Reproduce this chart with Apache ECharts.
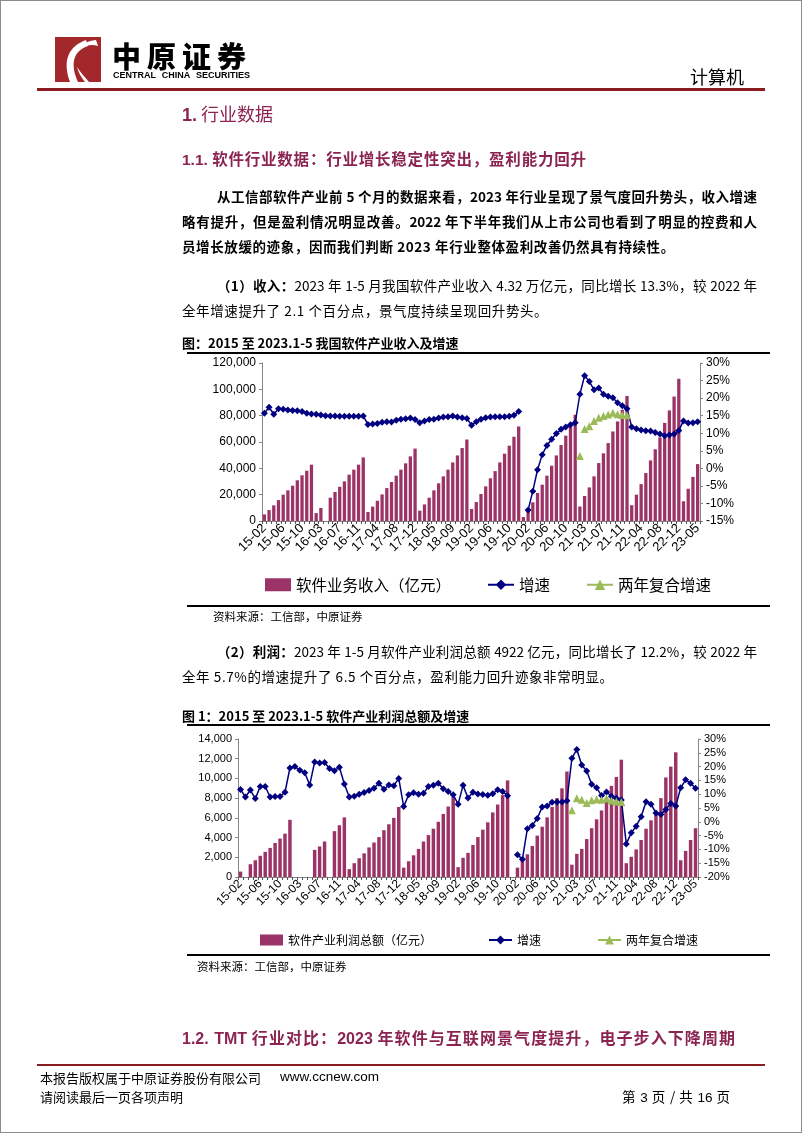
<!DOCTYPE html>
<html><head><meta charset="utf-8">
<script src="https://cdn.jsdelivr.net/npm/echarts@6/dist/echarts.min.js"></script>
<style>
html,body{margin:0;padding:0;background:#fff;}
#page{position:relative;width:802px;height:1133px;overflow:hidden;font-family:"Noto Sans CJK SC",sans-serif;color:#000;}
#frame{position:absolute;left:0;top:0;width:800px;height:1131px;border:1px solid #8c8c8c;}
#chart{position:absolute;left:0;top:0;width:802px;height:1133px;}
.t{position:absolute;white-space:nowrap;line-height:1;z-index:2;}
.j{text-align:justify;text-align-last:justify;}
.rule{position:absolute;z-index:2;}
.mar{color:#8c2452;}
b{font-weight:700;}
</style></head>
<body><div id="page">
<div id="frame"></div>
<div id="chart"></div>
<svg style="position:absolute;left:55px;top:37px;z-index:2" width="46" height="45" viewBox="0 0 46 45">
<rect width="46" height="45" fill="#a3282c"/>
<path d="M31 3 C14 9 7 23 15 45 L23 45 C15 27 18 14 33 9 Z" fill="#fff"/>
<path d="M41 3 C31 4 27 8 25 12 C31 8 37 7 43 9 Z" fill="#fff"/>
<path d="M22 30 C26 36 30 40 34 45 L30 45 C27 41 24 37 22 30 Z" fill="#fff"/>
</svg>
<div class="t" style="left:112px;top:41px;font-size:29px;font-weight:900;letter-spacing:6px;">中原证券</div>
<div class="t j" style="left:113px;top:71px;font-size:9px;font-weight:700;font-family:'Liberation Sans Narrow','Liberation Sans',Arial;width:137px;height:10px;">CENTRAL CHINA SECURITIES</div>
<div class="t" style="left:690px;top:67px;font-size:18px;">计算机</div>
<div class="rule" style="left:37px;top:88px;width:728px;height:3px;background:#8b1c1f;"></div>

<div class="t mar" style="left:182px;top:104px;font-size:18px;"><span style="font-family:'Liberation Sans',Arial;font-weight:700;">1.</span> 行业数据</div>
<div class="t mar j" style="left:182px;top:151px;font-size:15.5px;font-weight:700;width:404px;height:16px;"><span style="font-family:'Liberation Sans',Arial;">1.1.</span> 软件行业数据：行业增长稳定性突出，盈利能力回升</div>

<div class="t j" style="left:217px;top:190px;font-size:13.5px;font-weight:700;width:540px;height:15px;">从工信部软件产业前 5 个月的数据来看，2023 年行业呈现了景气度回升势头，收入增速</div>
<div class="t j" style="left:182px;top:215px;font-size:13.5px;font-weight:700;width:575px;height:15px;">略有提升，但是盈利情况明显改善。2022 年下半年我们从上市公司也看到了明显的控费和人</div>
<div class="t" style="left:182px;top:240px;font-size:13.5px;font-weight:700;letter-spacing:0.6px;">员增长放缓的迹象，因而我们判断 2023 年行业整体盈利改善仍然具有持续性。</div>

<div class="t j" style="left:217px;top:279px;font-size:13.5px;width:540px;height:15px;"><b>（1）收入：</b>2023 年 1-5 月我国软件产业收入 4.32 万亿元，同比增长 13.3%，较 2022 年</div>
<div class="t" style="left:182px;top:304px;font-size:13.5px;letter-spacing:0.6px;">全年增速提升了 2.1 个百分点，景气度持续呈现回升势头。</div>

<div class="t" style="left:182px;top:336px;font-size:13px;font-weight:700;">图：2015 至 2023.1-5 我国软件产业收入及增速</div>
<div class="rule" style="left:187px;top:352px;width:583px;height:2px;background:#000;"></div>
<div class="rule" style="left:187px;top:605px;width:583px;height:2px;background:#000;"></div>
<div class="t" style="left:213px;top:611px;font-size:11.5px;">资料来源：工信部，中原证券</div>

<div class="t j" style="left:217px;top:645px;font-size:13.5px;width:540px;height:15px;"><b>（2）利润：</b>2023 年 1-5 月软件产业利润总额 4922 亿元，同比增长了 12.2%，较 2022 年</div>
<div class="t" style="left:182px;top:670px;font-size:13.5px;letter-spacing:0.6px;">全年 5.7%的增速提升了 6.5 个百分点，盈利能力回升迹象非常明显。</div>

<div class="t" style="left:182px;top:709px;font-size:13px;font-weight:700;">图 1：2015 至 2023.1-5 软件产业利润总额及增速</div>
<div class="rule" style="left:187px;top:724px;width:583px;height:2px;background:#000;"></div>
<div class="rule" style="left:187px;top:954px;width:583px;height:2px;background:#000;"></div>
<div class="t" style="left:197px;top:961px;font-size:11.5px;">资料来源：工信部，中原证券</div>

<div class="t mar j" style="left:182px;top:1029px;font-size:16px;font-weight:700;width:553px;height:17px;"><span style="font-family:'Liberation Sans',Arial;">1.2. TMT</span> 行业对比：<span style="font-family:'Liberation Sans',Arial;">2023</span> 年软件与互联网景气度提升，电子步入下降周期</div>
<div class="rule" style="left:37px;top:1064px;width:728px;height:2px;background:#8b1c1f;"></div>
<div class="t" style="left:40px;top:1071px;font-size:13px;">本报告版权属于中原证券股份有限公司</div>
<div class="t" style="left:280px;top:1070px;font-size:13.5px;font-family:'Liberation Sans',Arial;">www.ccnew.com</div>
<div class="t" style="left:40px;top:1090px;font-size:13px;">请阅读最后一页各项声明</div>
<div class="t j" style="left:622px;top:1090px;font-size:13.5px;width:108px;height:14px;">第 <span style="font-family:'Liberation Sans',Arial;">3</span> 页 / 共 <span style="font-family:'Liberation Sans',Arial;">16</span> 页</div>
</div>
<script>
const months = [
'15-02','15-03','15-04','15-05','15-06','15-07','15-08','15-09','15-10','15-11','15-12',
'16-02','16-03','16-04','16-05','16-06','16-07','16-08','16-09','16-10','16-11','16-12',
'17-02','17-03','17-04','17-05','17-06','17-07','17-08','17-09','17-10','17-11','17-12',
'18-02','18-03','18-04','18-05','18-06','18-07','18-08','18-09','18-10','18-11','18-12',
'19-02','19-03','19-04','19-05','19-06','19-07','19-08','19-09','19-10','19-11','19-12',
'20-01',
'20-02','20-03','20-04','20-05','20-06','20-07','20-08','20-09','20-10','20-11','20-12',
'21-02','21-03','21-04','21-05','21-06','21-07','21-08','21-09','21-10','21-11','21-12',
'22-02','22-03','22-04','22-05','22-06','22-07','22-08','22-09','22-10','22-11','22-12',
'23-02','23-03','23-04','23-05'];

// 软件业务收入（亿元，累计）
const revenue = [
5000,8300,11900,15900,20000,23300,26800,30900,34700,38200,42800,
6000,9900,null,17700,22000,26000,30100,35200,39000,42800,48300,
6800,10900,15400,20200,25000,29600,34400,39000,43800,49100,55000,
7800,12600,17700,23300,28600,33900,39000,44500,49800,55400,61900,
9100,14400,20500,26300,32400,37900,44500,51100,57200,64000,71800,
3000,
8300,14200,21300,27600,34400,42000,49800,57700,64800,71300,80700,
11000,19000,25500,33900,44000,51400,59200,68000,75600,84500,95000,
12000,20000,28000,36400,46000,54500,63500,74500,84000,94500,108000,
15000,24500,33500,43200];

// 收入增速（%）
const revenueGrowth = [
15.7,17.4,15.4,17.0,16.8,16.6,16.5,16.4,16.2,15.7,15.5,
15.4,15.2,15.0,14.9,14.9,14.8,14.8,14.8,14.8,14.8,14.9,
12.5,12.6,12.8,13.1,13.3,13.2,13.7,14.0,14.1,14.3,13.9,
13.0,13.5,13.9,14.0,14.3,14.6,14.7,14.9,14.6,14.4,14.2,
12.3,13.3,14.0,14.4,14.6,14.7,14.7,14.7,14.8,15.1,16.2,
null,
-11.9,-6.5,-0.4,3.9,6.5,8.3,9.9,11.1,11.8,12.4,13.0,
21.1,26.4,24.7,22.4,22.9,21.1,20.5,20.1,18.7,17.8,17.0,
11.8,11.3,10.9,10.7,10.6,10.2,9.8,9.3,9.5,9.8,10.8,
13.5,12.9,13.0,13.3];

// 收入两年复合增速（%）
const revenueCagr2y = [
null,null,null,null,null,null,null,null,null,null,null,
null,null,null,null,null,null,null,null,null,null,null,
null,null,null,null,null,null,null,null,null,null,null,
null,null,null,null,null,null,null,null,null,null,null,
null,null,null,null,null,null,null,null,null,null,null,
null,
null,null,null,null,null,null,null,null,null,null,null,
3.5,11.2,12.0,13.5,14.4,14.9,15.3,15.8,15.4,15.2,15.1,
null,null,null,null,null,null,null,null,null,null,null,
null,null,null,null];

// 软件产业利润总额（亿元，累计）
const profit = [
550,null,1300,1700,2150,2550,2950,3450,3900,4400,5800,
null,null,null,null,2750,3100,3600,null,4650,5250,6050,
800,1400,1900,2400,3000,3500,4050,4750,5350,6000,7100,
950,1600,2200,2850,3600,4250,4900,5600,6400,7150,8100,
1000,1950,2450,3250,4050,4800,5550,6550,7350,8300,9800,
null,
950,1650,2300,3150,4200,5100,6050,7100,8000,9000,10700,
1250,2350,2850,3850,4950,5850,6750,8050,9250,10150,11900,
1400,2050,2800,3750,4900,5750,6550,8000,10100,11200,12650,
1700,2650,3750,4950];

// 利润增速（%）
const profitGrowth = [
11.7,9.0,11.5,8.4,12.8,12.8,9.0,9.2,9.2,10.7,19.5,
20.0,18.7,17.8,13.3,21.7,21.3,21.5,19.3,18.5,19.8,13.7,
9.0,9.3,10.0,10.6,11.3,12.2,14.0,11.8,13.3,13.1,15.7,
5.5,9.8,10.5,10.0,10.3,12.8,13.2,14.0,12.0,11.0,9.8,
6.4,13.2,8.6,10.7,10.1,9.9,9.6,10.2,11.6,11.0,9.4,
null,
-11.9,-13.6,-2.5,-1.3,1.2,5.4,5.7,7.1,7.2,7.2,7.6,
23.0,26.2,20.6,18.4,13.6,12.3,9.5,10.8,9.3,8.5,7.9,
-8.0,-4.0,-1.6,1.8,7.3,6.4,3.2,2.6,4.5,6.6,5.7,
12.3,15.2,14.0,12.2];

// 利润两年复合增速（%）
const profitCagr2y = [
null,null,null,null,null,null,null,null,null,null,null,
null,null,null,null,null,null,null,null,null,null,null,
null,null,null,null,null,null,null,null,null,null,null,
null,null,null,null,null,null,null,null,null,null,null,
null,null,null,null,null,null,null,null,null,null,null,
null,
null,null,null,null,null,null,null,null,null,null,null,
4.2,8.5,8.0,6.8,7.8,8.2,8.0,8.4,7.7,7.4,7.2,
null,null,null,null,null,null,null,null,null,null,null,
null,null,null,null];

const BAR = '#9c3366', NAVY = '#000080', GREEN = '#9bbb59', AXIS = '#868686';
const numFmt = v => v.toLocaleString('en-US');
const pctFmt = v => v + '%';

function xAxisCfg(gi, fs) {
  return {
    gridIndex: gi, type: 'category', data: months, boundaryGap: true,
    axisLine: {show: true, lineStyle: {color: AXIS, width: 1}},
    axisTick: {show: true, interval: 0, length: 3, lineStyle: {color: '#555'}},
    axisLabel: {interval: 3, rotate: 45, fontSize: fs, fontFamily: 'Liberation Sans, Arial', color: '#000', margin: 5},
    splitLine: {show: false}
  };
}
function yAxisCfg(gi, pos, min, max, step, fmt, fs) {
  return {
    gridIndex: gi, type: 'value', position: pos, min: min, max: max, interval: step,
    axisLine: {show: true, lineStyle: {color: AXIS}},
    axisTick: {show: true, length: 3, lineStyle: {color: AXIS}},
    axisLabel: {formatter: fmt, fontSize: fs, fontFamily: 'Liberation Sans, Arial', color: '#000', margin: 6},
    splitLine: {show: false}
  };
}
function growthLine(name, xi, yi, data) {
  return {name: name, type: 'line', xAxisIndex: xi, yAxisIndex: yi, data: data,
    symbol: 'diamond', symbolSize: 7, showAllSymbol: true, connectNulls: false,
    itemStyle: {color: NAVY}, lineStyle: {color: NAVY, width: 1.5}};
}
function cagrLine(xi, yi, data) {
  return {name: '两年复合增速', type: 'line', xAxisIndex: xi, yAxisIndex: yi, data: data,
    symbol: 'triangle', symbolSize: 8, showAllSymbol: true, itemStyle: {color: GREEN},
    lineStyle: {color: GREEN, width: 2, opacity: 0}};
}

const chart = echarts.init(document.getElementById('chart'), null, {renderer: 'canvas'});
chart.setOption({
  animation: false,
  backgroundColor: 'transparent',
  grid: [
    {left: 262, top: 363, width: 438, height: 158},
    {left: 238, top: 739, width: 460, height: 138}
  ],
  xAxis: [xAxisCfg(0, 13), xAxisCfg(1, 12)],
  yAxis: [
    yAxisCfg(0, 'left', 0, 120000, 20000, numFmt, 12),
    yAxisCfg(0, 'right', -15, 30, 5, pctFmt, 12),
    yAxisCfg(1, 'left', 0, 14000, 2000, numFmt, 11),
    yAxisCfg(1, 'right', -20, 30, 5, pctFmt, 11)
  ],
  legend: [
    {
      left: 260, top: 572, itemWidth: 26, itemHeight: 13, itemGap: 36,
      textStyle: {fontSize: 15.5, fontFamily: 'Noto Sans CJK SC', color: '#000'},
      data: [{name: '软件业务收入（亿元）', icon: 'rect'}, '增速', {name: '两年复合增速', lineStyle: {opacity: 1}}]
    },
    {
      left: 255, top: 929, itemWidth: 23, itemHeight: 11, itemGap: 56,
      textStyle: {fontSize: 12, fontFamily: 'Noto Sans CJK SC', color: '#000'},
      data: [{name: '软件产业利润总额（亿元）', icon: 'rect'}, '增速', {name: '两年复合增速', lineStyle: {opacity: 1}}]
    }
  ],
  series: [
    {name: '软件业务收入（亿元）', type: 'bar', xAxisIndex: 0, yAxisIndex: 0, data: revenue,
     barCategoryGap: '30%', itemStyle: {color: BAR}},
    growthLine('增速', 0, 1, revenueGrowth),
    cagrLine(0, 1, revenueCagr2y),
    {name: '软件产业利润总额（亿元）', type: 'bar', xAxisIndex: 1, yAxisIndex: 2, data: profit,
     barCategoryGap: '30%', itemStyle: {color: BAR}},
    growthLine('增速', 1, 3, profitGrowth),
    cagrLine(1, 3, profitCagr2y)
  ]
});
</script>
</body></html>
